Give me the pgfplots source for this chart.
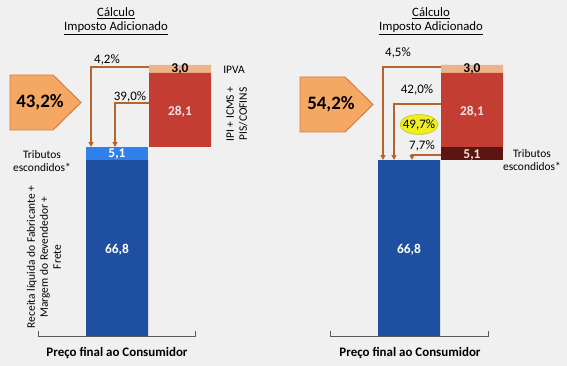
\documentclass[border=0pt]{standalone}
\usepackage{pgfplots}
\pgfplotsset{compat=1.18}
\usepackage{fontspec}
\setmainfont{Carlito}
\usetikzlibrary{arrows.meta}
\definecolor{bg}{HTML}{F0F0F0}
\definecolor{dblue}{HTML}{1E4FA0}
\definecolor{lblue}{HTML}{2F80EA}
\definecolor{bred}{HTML}{C33D33}
\definecolor{peach}{HTML}{EFB38A}
\definecolor{maroon}{HTML}{5C1510}
\definecolor{ofill}{HTML}{F5A864}
\definecolor{oborder}{HTML}{D9793A}
\definecolor{brown}{HTML}{B3652C}
\definecolor{yel}{HTML}{EEEE22}
\definecolor{pinkw}{HTML}{F8E0DC}
\begin{document}
\begin{tikzpicture}
\begin{scope}[x=1bp,y=1bp]
\fill[bg] (0,0) rectangle (567,366);
\end{scope}
\begin{axis}[
  at={(0bp,30bp)}, anchor=origin,
  scale only axis, width=567bp, height=271bp,
  xmin=0, xmax=567, ymin=0, ymax=103,
  hide axis, clip=false,
  ybar stacked, bar width=62,
]
\addplot[fill=dblue, draw=none] coordinates {(117,66.8) (180,0) (409,66.8) (472,0)};
\addplot[fill=lblue, draw=none] coordinates {(117,5.1) (180,0) (409,0) (472,0)};
\addplot[fill=none, draw=none] coordinates {(117,0) (180,71.9) (409,0) (472,66.8)};
\addplot[fill=maroon, draw=none] coordinates {(117,0) (180,0) (409,0) (472,5.1)};
\addplot[fill=bred, draw=none] coordinates {(117,0) (180,28.1) (409,0) (472,28.1)};
\addplot[fill=peach, draw=none] coordinates {(117,0) (180,3.0) (409,0) (472,3.0)};
\end{axis}
\begin{scope}[x=1bp,y=1bp]
% value labels
\begin{scope}[font=\bfseries\fontsize{13.5}{13.5}\selectfont]
\node[white] at (117,116) {66,8};
\node[white] at (117,212) {5,1};
\node[pinkw] at (180,254) {28,1};
\node[black] at (180,297) {3,0};
\node[white] at (409,116) {66,8};
\node[pinkw] at (472,254) {28,1};
\node[pinkw] at (472,211) {5,1};
\node[black] at (472,297) {3,0};
\end{scope}
% baselines
\draw[gray!70!black, line width=0.8pt] (38,35)--(38,30)--(195,30)--(195,35);
\draw[gray!70!black, line width=0.8pt] (330,35)--(330,30)--(488,30)--(488,35);
\node[font=\bfseries\fontsize{13}{13}\selectfont] at (117,13) {Preço final ao Consumidor};
\node[font=\bfseries\fontsize{13}{13}\selectfont] at (410,13) {Preço final ao Consumidor};
% titles
\node[font=\fontsize{12.8}{12.8}\selectfont] at (116,353) {\underline{Cálculo}};
\node[font=\fontsize{12.8}{12.8}\selectfont] at (116,338) {\underline{Imposto Adicionado}};
\node[font=\fontsize{12.8}{12.8}\selectfont] at (431,353) {\underline{Cálculo}};
\node[font=\fontsize{12.8}{12.8}\selectfont] at (431,338) {\underline{Imposto Adicionado}};
% big arrows
\draw[fill=ofill, draw=oborder, line width=1pt] (10,291)--(53,291)--(81,263.5)--(53,236)--(10,236)--cycle;
\node[font=\bfseries\fontsize{19}{19}\selectfont] at (40,263.5) {43,2\%};
\draw[fill=ofill, draw=oborder, line width=1pt] (300,289)--(345,289)--(373,261.5)--(345,234)--(300,234)--cycle;
\node[font=\bfseries\fontsize{19}{19}\selectfont] at (331,261.5) {54,2\%};
% brown arrows
\begin{scope}[brown, line width=1.6pt, -{Triangle[length=5pt,width=5pt]}]
\draw (149,299)--(91,299)--(91,219);
\draw (149,263)--(115,263)--(115,219);
\draw (441,299)--(383,299)--(383,206);
\draw (441,262)--(394,262)--(394,206);
\draw (441,211)--(412,211)--(412,206);
\end{scope}
\begin{scope}[font=\fontsize{13}{13}\selectfont]
\node at (107,306) {4,2\%};
\node at (130,269) {39,0\%};
\node at (398,313) {4,5\%};
\node at (417,276) {42,0\%};
\node at (422,220) {7,7\%};
\end{scope}
\draw[fill=yel, draw=yel!80!black, line width=0.5pt] (419,241.5) ellipse [x radius=19, y radius=10];
\node[font=\fontsize{13}{13}\selectfont] at (419,241.5) {49,7\%};
% side labels
\begin{scope}[font=\fontsize{11.5}{13}\selectfont, align=center]
\node at (234,296) {IPVA};
\node[rotate=90] at (237,252) {IPI + ICMS +\\PIS/COFINS};
\node at (42,204.5) {Tributos\\escondidos*};
\node[rotate=90] at (44,109) {Receita líquida do Fabricante +\\Margem do Revendedor +\\Frete};
\node at (532,206) {Tributos\\escondidos*};
\end{scope}
\end{scope}
\pgfresetboundingbox
\useasboundingbox (0,0) rectangle (567bp,366bp);
\end{tikzpicture}
\end{document}
